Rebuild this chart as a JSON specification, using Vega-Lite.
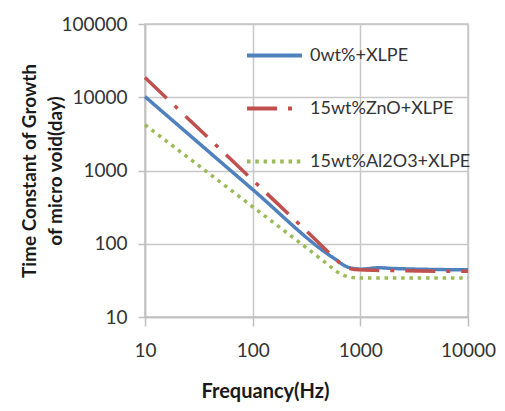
{
  "$schema": "https://vega.github.io/schema/vega-lite/v6.json",
  "width": 323,
  "height": 293,
  "autosize": "none",
  "padding": {"left": 145, "top": 24, "right": 37, "bottom": 94},
  "background": "white",
  "data": {
    "values": [
      {"series": "15wt%Al2O3+XLPE", "f": 10, "t": 4200},
      {"series": "15wt%Al2O3+XLPE", "f": 100, "t": 320},
      {"series": "15wt%Al2O3+XLPE", "f": 500, "t": 52},
      {"series": "15wt%Al2O3+XLPE", "f": 600, "t": 42},
      {"series": "15wt%Al2O3+XLPE", "f": 700, "t": 37},
      {"series": "15wt%Al2O3+XLPE", "f": 800, "t": 35},
      {"series": "15wt%Al2O3+XLPE", "f": 1000, "t": 34},
      {"series": "15wt%Al2O3+XLPE", "f": 10000, "t": 34},
      {"series": "0wt%+XLPE", "f": 10, "t": 10200},
      {"series": "0wt%+XLPE", "f": 100, "t": 550},
      {"series": "0wt%+XLPE", "f": 500, "t": 72},
      {"series": "0wt%+XLPE", "f": 600, "t": 60},
      {"series": "0wt%+XLPE", "f": 700, "t": 51},
      {"series": "0wt%+XLPE", "f": 800, "t": 47},
      {"series": "0wt%+XLPE", "f": 1000, "t": 45},
      {"series": "0wt%+XLPE", "f": 1500, "t": 47},
      {"series": "0wt%+XLPE", "f": 2000, "t": 46},
      {"series": "0wt%+XLPE", "f": 10000, "t": 44},
      {"series": "15wt%ZnO+XLPE", "f": 10, "t": 18600},
      {"series": "15wt%ZnO+XLPE", "f": 100, "t": 740},
      {"series": "15wt%ZnO+XLPE", "f": 500, "t": 78},
      {"series": "15wt%ZnO+XLPE", "f": 600, "t": 60},
      {"series": "15wt%ZnO+XLPE", "f": 700, "t": 50},
      {"series": "15wt%ZnO+XLPE", "f": 800, "t": 46},
      {"series": "15wt%ZnO+XLPE", "f": 1000, "t": 44},
      {"series": "15wt%ZnO+XLPE", "f": 2000, "t": 43},
      {"series": "15wt%ZnO+XLPE", "f": 10000, "t": 42}
    ]
  },
  "mark": {"type": "line", "interpolate": "monotone", "strokeWidth": 3.5, "strokeCap": "butt"},
  "encoding": {
    "x": {
      "field": "f", "type": "quantitative",
      "scale": {"type": "log", "domain": [10, 10000], "nice": false},
      "axis": {
        "values": [10, 100, 1000, 10000], "format": "d", "labelFlush": false,
        "title": "Frequancy(Hz)",
        "titleFont": "Lato", "titleFontSize": 20, "titleFontWeight": "bold", "titleColor": "#1a1a1a",
        "titleX": 120, "titlePadding": 21,
        "labelFont": "Lato", "labelFontSize": 19, "labelColor": "#333333", "labelPadding": 15,
        "tickSize": 9, "tickColor": "#bfbfbf", "tickWidth": 1.5,
        "domainColor": "#bfbfbf", "domainWidth": 1.5,
        "gridColor": "#c8c8c8", "gridWidth": 1.5
      }
    },
    "y": {
      "field": "t", "type": "quantitative",
      "scale": {"type": "log", "domain": [10, 100000], "nice": false},
      "axis": {
        "values": [10, 100, 1000, 10000, 100000], "format": "d", "labelFlush": false,
        "title": ["Time Constant of Growth", "of micro void(day)"],
        "titleFont": "Lato", "titleFontSize": 19, "titleFontWeight": "bold", "titleColor": "#1a1a1a",
        "titleLineHeight": 26, "titlePadding": -5,
        "labelFont": "Lato", "labelFontSize": 19, "labelColor": "#333333", "labelPadding": 11,
        "tickSize": 7, "tickColor": "#bfbfbf", "tickWidth": 1.5,
        "domainColor": "#bfbfbf", "domainWidth": 1.5,
        "gridColor": "#c8c8c8", "gridWidth": 1.5
      }
    },
    "color": {
      "field": "series", "type": "nominal",
      "scale": {
        "domain": ["0wt%+XLPE", "15wt%ZnO+XLPE", "15wt%Al2O3+XLPE"],
        "range": ["#4f81bd", "#c0504d", "#9bbb59"]
      },
      "legend": {
        "title": null, "orient": "none", "legendX": 100, "legendY": 2,
        "symbolType": "stroke", "symbolSize": 3025, "symbolStrokeWidth": 4,
        "labelFont": "Lato", "labelFontSize": 18, "labelColor": "#333333", "labelLimit": 0,
        "labelOffset": 6, "rowPadding": 14
      }
    },
    "strokeDash": {
      "field": "series", "type": "nominal",
      "scale": {
        "domain": ["0wt%+XLPE", "15wt%ZnO+XLPE", "15wt%Al2O3+XLPE"],
        "range": [[1, 0], [30, 11, 4, 11], [3.5, 4.8]]
      },
      "legend": null
    },
    "order": {"field": "f", "type": "quantitative"}
  },
  "config": {
    "view": {"stroke": "#c8c8c8", "strokeWidth": 1.5}
  }
}
